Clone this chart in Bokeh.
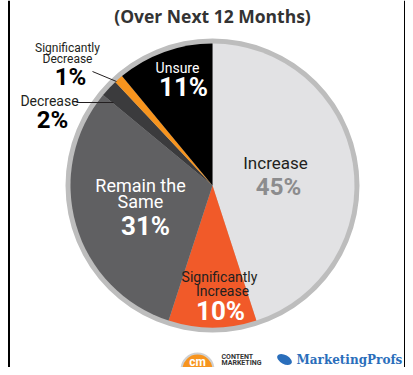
import numpy as np
from bokeh.plotting import figure
from bokeh.models import Range1d, Span, ColumnDataSource
from bokeh.core.properties import value
from bokeh.embed import file_html
from bokeh.resources import INLINE

# ---- data ----
categories = ["Increase", "Significantly Increase", "Remain the Same",
              "Decrease", "Significantly Decrease", "Unsure"]
shares = [45, 10, 31, 2, 1, 11]
colors = ["#e2e2e4", "#f15a29", "#606062", "#3b3b3d", "#f7941e", "#000000"]
title_text = "(Over Next 12 Months)"

W, H = 405, 367
def sy(y):
    # picture y (px from top) -> data y
    return H - y

p = figure(width=W, height=H, output_backend="svg", toolbar_location=None,
           x_range=Range1d(0, W), y_range=Range1d(0, H),
           min_border=0, outline_line_color=None)
p.axis.visible = False
p.grid.visible = False
p.background_fill_color = "white"
p.border_fill_color = "white"

# side borders
p.add_layout(Span(location=8.5, dimension="height", line_color="#000000", line_width=2))
p.add_layout(Span(location=404.5, dimension="height", line_color="#000000", line_width=2))

cx, cy = 212, sy(185)
R_out, R_in = 147, 142

# outer ring
p.circle(x=[cx], y=[cy], radius=R_out, fill_color="#bdbdbd", line_color=None)

vals = np.array(shares, dtype=float)
frac = vals / vals.sum()
ends = np.cumsum(frac)
starts = ends - frac
start_ang = np.pi / 2 - starts * 2 * np.pi
end_ang = np.pi / 2 - ends * 2 * np.pi
src = ColumnDataSource(dict(cat=categories, start=start_ang, end=end_ang, color=colors))
p.wedge(x=cx, y=cy, radius=R_in, start_angle="start", end_angle="end",
        direction="clock", fill_color="color", line_color=None, source=src)

FONT = value("Roboto")

def txt(x, y, s, size, color, bold=False, align="center", base="middle", font=FONT):
    p.text(x=[x], y=[sy(y)], text=[s], text_font=font, text_font_size=f"{size}px",
           text_color=color, text_font_style="bold" if bold else "normal",
           text_align=align, text_baseline=base)

pct = [f"{v}%" for v in shares]

# title
txt(212, 15, title_text, 17.5, "#333333", bold=True, font=value("Open Sans"))

# Increase
txt(275, 162, categories[0], 17, "#231f20")
txt(278, 186, pct[0], 24, "#8c8c8e", bold=True)
# Unsure
txt(177, 67, categories[5], 14, "#ffffff")
txt(183, 86, pct[5], 26, "#ffffff", bold=True)
# Remain the Same
txt(140, 185, "Remain the", 18, "#ffffff")
txt(140, 201, "Same", 18, "#ffffff")
txt(145, 225, pct[2], 26, "#ffffff", bold=True)
# Significantly Increase
txt(219, 276, "Significantly", 14, "#231f20")
txt(222, 290, "Increase", 14, "#231f20")
txt(220, 310, pct[1], 26, "#ffffff", bold=True)
# Significantly Decrease
txt(67, 47, "Significantly", 12, "#231f20")
txt(67, 58, "Decrease", 12, "#231f20")
txt(70, 76, pct[4], 24, "#000000", bold=True)
# Decrease
txt(49, 100, categories[3], 14, "#231f20")
txt(52, 119, pct[3], 24, "#000000", bold=True)

# leader lines
p.segment(x0=[92, 76], y0=[sy(71), sy(102)], x1=[116, 113], y1=[sy(81), sy(102)],
          line_color="#231f20", line_width=1)

# footer logos
p.circle(x=[197], y=[sy(369)], radius=16, fill_color="#f7941e",
         line_color="#d0d0d0", line_width=2)
txt(197, 361, "cm", 12, "#ffffff", bold=True)
txt(221, 356, "CONTENT", 7, "#333333", bold=True, align="left")
txt(221, 362, "MARKETING", 7, "#333333", bold=True, align="left")
p.ellipse(x=[284], y=[sy(359)], width=16, height=9, angle=-0.5,
          fill_color="#2a6ebb", line_color=None)
txt(296, 359, "MarketingProfs", 12, "#2a6ebb", bold=True, align="left",
    font=value("DejaVu Serif"))

open("out.html", "w").write(file_html(p, INLINE))
